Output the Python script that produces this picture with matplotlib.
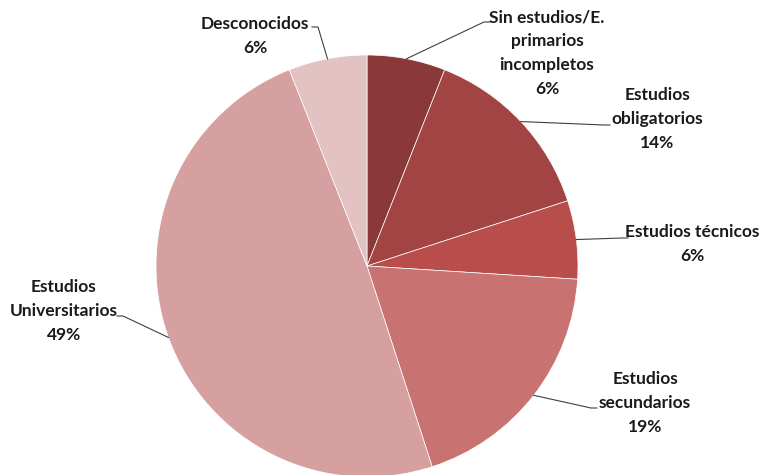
import matplotlib.pyplot as plt
import numpy as np

# nivel de estudios (porcentaje)
categorias = [
    "Sin estudios/E.\nprimarios\nincompletos",
    "Estudios\nobligatorios",
    "Estudios técnicos",
    "Estudios\nsecundarios",
    "Estudios\nUniversitarios",
    "Desconocidos",
]
valores = [6, 14, 6, 19, 49, 6]
colores = ["#8b3838", "#a34444", "#b84d4b", "#c87372", "#d6a0a0", "#e2c2c3"]

W, H = 759, 475
CX, CY, R = 367, H - 266, 211

fig = plt.figure(figsize=(W / 100, H / 100), dpi=100)
ax = fig.add_axes([0, 0, 1, 1])

wedges, _ = ax.pie(
    valores,
    colors=colores,
    startangle=90,
    counterclock=False,
    center=(CX, CY),
    radius=R,
    wedgeprops=dict(edgecolor="white", linewidth=0.5),
    frame=True,
)
ax.set_xlim(0, W)
ax.set_ylim(0, H)
ax.set_aspect("equal")
ax.axis("off")

# posicion del texto (centro, en pixeles desde arriba) y codo de la linea guia
etiquetas = [
    ((547, 53), (484, 22)),
    ((657, 119), (604, 125)),
    ((692, 244), (622, 238)),
    ((645, 403), (591, 408)),
    ((64, 311), (123, 316)),
    ((255, 36), (318, 27)),
]

for w, val, cat, ((tx, ty), (ex, ey)) in zip(wedges, valores, categorias, etiquetas):
    ang = np.deg2rad((w.theta1 + w.theta2) / 2)
    px = CX + R * np.cos(ang)
    py = CY + R * np.sin(ang)
    ax.text(tx, H - ty, f"{cat}\n{val}%", ha="center", va="center",
            fontsize=12.5, fontweight="bold", family="Lato", color="#1a1a1a",
            linespacing=1.6)
    stub = 6 if ex > px else -6
    ax.plot([px, ex, ex + stub], [py, H - ey, H - ey], color="#404040", lw=0.8)

fig.savefig("out.png", dpi=100)
